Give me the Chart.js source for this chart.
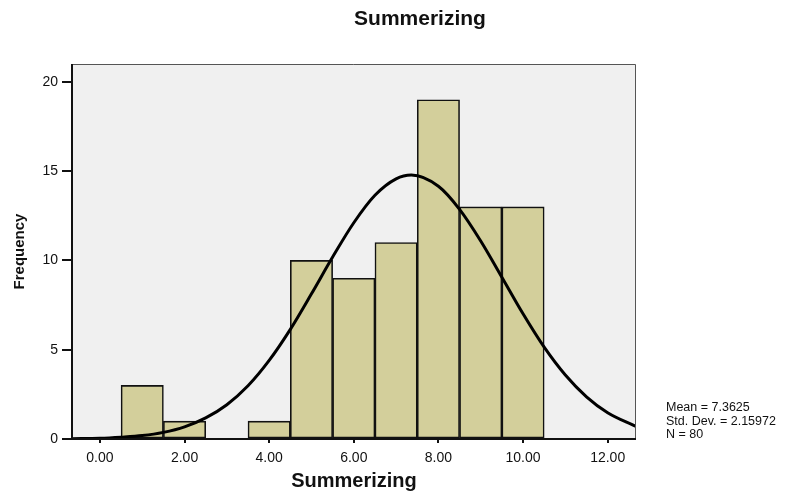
<!DOCTYPE html>
<html><head><meta charset="utf-8">
<script src="https://cdn.jsdelivr.net/npm/chart.js@4"></script>
<style>html,body{margin:0;padding:0;background:#fff}canvas{display:block}</style>
</head><body>
<canvas id="c" width="796" height="491"></canvas>
<script>
// ---- data ----
const binCenters = [1, 2, 4, 5, 6, 7, 8, 9, 10];
const frequencies = [3, 1, 1, 10, 9, 11, 19, 13, 13];
const curveX = [-0.66, 0, 0.5, 1, 1.5, 2, 2.5, 3, 3.5, 4, 4.5, 5, 5.5, 6, 6.5, 7, 7.36, 8, 8.5, 9, 9.5, 10, 10.5, 11, 11.5, 12, 12.67];
const curveY = [0.02, 0.04, 0.1, 0.19, 0.37, 0.68, 1.18, 1.92, 2.98, 4.4, 6.14, 8.13, 10.19, 12.11, 13.65, 14.57, 14.78, 14.15, 12.86, 11.09, 9.06, 7.01, 5.14, 3.58, 2.36, 1.47, 0.7];
const xTickValues = [0, 2, 4, 6, 8, 10, 12];
const yTickValues = [0, 5, 10, 15, 20];
const chartTitle = 'Summerizing';
const xTitle = 'Summerizing';
const yTitle = 'Frequency';
const statsLines = ['Mean = 7.3625', 'Std. Dev. = 2.15972', 'N = 80'];

const FONT = '"Liberation Sans", Arial, Helvetica, sans-serif';
Chart.defaults.font.family = FONT;
Chart.defaults.color = '#111';

const framePlugin = {
  id: 'frame',
  beforeDraw(chart) {
    const {ctx, chartArea: a} = chart;
    ctx.save();
    ctx.fillStyle = '#f0f0f0';
    ctx.fillRect(a.left, a.top, a.right - a.left, a.bottom - a.top);
    ctx.restore();
  },
  afterDatasetsDraw(chart) {
    const {ctx, chartArea: a} = chart;
    ctx.save();
    ctx.strokeStyle = '#555';
    ctx.lineWidth = 1;
    ctx.beginPath();
    ctx.moveTo(a.left, a.top + 0.5);
    ctx.lineTo(a.right - 0.5, a.top + 0.5);
    ctx.lineTo(a.right - 0.5, a.bottom);
    ctx.stroke();
    ctx.strokeStyle = '#111';
    ctx.lineWidth = 2;
    ctx.beginPath();
    ctx.moveTo(a.left, a.top);
    ctx.lineTo(a.left, a.bottom);
    ctx.lineTo(a.right, a.bottom);
    ctx.stroke();
    ctx.restore();
  },
  afterDraw(chart) {
    const {ctx} = chart;
    ctx.save();
    ctx.fillStyle = '#111';
    ctx.textAlign = 'center';
    ctx.textBaseline = 'middle';
    ctx.font = 'bold 21px ' + FONT;
    ctx.fillText(chartTitle, 420, 19);
    ctx.textAlign = 'left';
    ctx.font = '12.5px ' + FONT;
    statsLines.forEach((t, i) => ctx.fillText(t, 666, 408 + i * 13.5));
    ctx.restore();
  }
};

new Chart(document.getElementById('c'), {
  data: {
    datasets: [
      {
        type: 'line',
        data: curveX.map((x, i) => ({x, y: curveY[i]})),
        borderColor: '#000',
        borderWidth: 3,
        pointRadius: 0,
        cubicInterpolationMode: 'monotone',
        fill: false,
        order: 0
      },
      {
        type: 'bar',
        data: binCenters.map((x, i) => ({x, y: frequencies[i]})),
        backgroundColor: '#d3cf9b',
        borderColor: '#111',
        borderWidth: 1.6,
        borderSkipped: false,
        barPercentage: 1,
        categoryPercentage: 1,
        order: 1
      }
    ]
  },
  options: {
    responsive: false,
    animation: false,
    events: [],
    layout: {padding: {left: 0, top: 64, right: 160, bottom: 0}},
    plugins: {legend: {display: false}, title: {display: false}, tooltip: {enabled: false}},
    scales: {
      x: {
        type: 'linear',
        min: -0.66,
        max: 12.67,
        offset: false,
        afterBuildTicks: s => { s.ticks = xTickValues.map(v => ({value: v})); },
        afterFit: s => { s.height = 52; },
        ticks: {callback: v => Number(v).toFixed(2), font: {size: 14}, padding: 7, color: '#111', maxRotation: 0, autoSkip: false},
        grid: {offset: false, drawOnChartArea: false, drawTicks: true, tickLength: 4, color: '#111', lineWidth: 2},
        border: {display: false},
        title: {display: true, text: xTitle, font: {size: 20, weight: 'bold'}, color: '#111', padding: {top: 0, bottom: -2}}
      },
      y: {
        type: 'linear',
        min: 0,
        max: 21,
        afterBuildTicks: s => { s.ticks = yTickValues.map(v => ({value: v})); },
        afterFit: s => { s.width = 72; },
        ticks: {font: {size: 14}, padding: 4, color: '#111'},
        grid: {drawOnChartArea: false, drawTicks: true, tickLength: 10, color: '#111', lineWidth: 2},
        border: {display: false},
        title: {display: true, text: yTitle, font: {size: 15, weight: 'bold'}, color: '#111', padding: {top: 11, bottom: 0}}
      }
    }
  },
  plugins: [framePlugin]
});
</script>
</body></html>
